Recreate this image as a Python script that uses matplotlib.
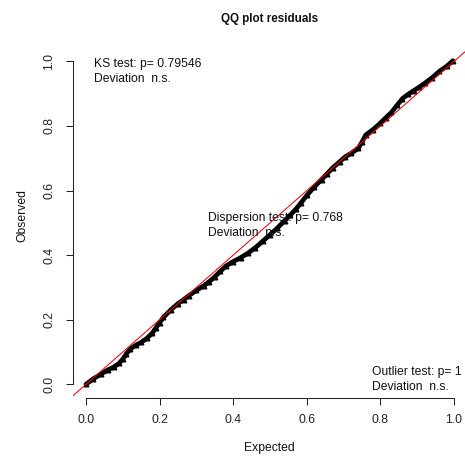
import matplotlib.pyplot as plt

# QQ plot of scaled residuals
expected = [0.000, 0.020, 0.040, 0.060, 0.075, 0.090, 0.100, 0.110, 0.120, 0.135,
            0.150, 0.165, 0.180, 0.190, 0.200, 0.210, 0.230, 0.250, 0.265, 0.280,
            0.300, 0.320, 0.335, 0.350, 0.365, 0.380, 0.400, 0.420, 0.440, 0.460,
            0.480, 0.500, 0.520, 0.540, 0.555, 0.570, 0.585, 0.600, 0.620, 0.640,
            0.655, 0.670, 0.690, 0.705, 0.720, 0.740, 0.750, 0.760, 0.780, 0.800,
            0.815, 0.830, 0.845, 0.860, 0.875, 0.890, 0.905, 0.920, 0.940, 0.960,
            0.980, 0.997]
observed = [0.000, 0.017, 0.031, 0.045, 0.053, 0.065, 0.078, 0.095, 0.109, 0.121,
            0.130, 0.142, 0.158, 0.175, 0.191, 0.207, 0.230, 0.250, 0.262, 0.275,
            0.291, 0.305, 0.318, 0.333, 0.350, 0.366, 0.380, 0.392, 0.406, 0.423,
            0.443, 0.463, 0.484, 0.507, 0.524, 0.542, 0.563, 0.585, 0.611, 0.634,
            0.652, 0.670, 0.690, 0.705, 0.715, 0.731, 0.750, 0.772, 0.789, 0.809,
            0.826, 0.842, 0.864, 0.885, 0.898, 0.909, 0.920, 0.932, 0.949, 0.969,
            0.985, 1.002]

ticks = [0.0, 0.2, 0.4, 0.6, 0.8, 1.0]
tick_labels = ["0.0", "0.2", "0.4", "0.6", "0.8", "1.0"]

ks_text = ["KS test: p= 0.79546", "Deviation  n.s."]
disp_text = ["Dispersion test: p= 0.768", "Deviation  n.s."]
outl_text = ["Outlier test: p= 1", "Deviation  n.s."]

W, H = 465, 458
plt.rcParams['font.family'] = ['Liberation Sans', 'DejaVu Sans']
FS = 8.7


def fx(px):
    return px / W


def fy(py):
    return 1 - py / H


fig = plt.figure(figsize=(W / 100, H / 100), dpi=100)
ax = fig.add_axes([fx(72.7), fy(397.7), (468.8 - 72.7) / W, (397.7 - 48.5) / H])

# dense residual points form a thick black band
ax.plot(expected, observed, color='black', lw=3.4, marker='^', ms=3.5,
        mfc='black', mec='black', mew=0.8, solid_joinstyle='round',
        solid_capstyle='round')
ax.axline((0, 0), (1, 1), color='red', lw=0.75)

ax.set_xlim(-0.0361, 1.0402)
ax.set_ylim(-0.0415, 1.04)

for s in ['top', 'right']:
    ax.spines[s].set_visible(False)
for s in ['left', 'bottom']:
    ax.spines[s].set_bounds(0, 1)
    ax.spines[s].set_linewidth(0.75)
    ax.spines[s].set_color('#222222')

ax.set_xticks(ticks)
ax.set_xticklabels(tick_labels)
ax.set_yticks(ticks)
ax.set_yticklabels(tick_labels, rotation=90, va='center')
ax.tick_params(direction='out', length=5, width=0.75, color='#222222',
               labelsize=FS, labelcolor='#222222')
ax.tick_params(axis='x', pad=7.0)
ax.tick_params(axis='y', pad=7.5)

# legends of the test results (bty = "n")
for i, t in enumerate(ks_text):
    fig.text(fx(94.3), fy(66.7 + 15 * i), t, fontsize=FS, va='baseline', color='#111111')
for i, t in enumerate(disp_text):
    fig.text(fx(208.3), fy(221 + 14.5 * i), t, fontsize=FS, va='baseline', color='#111111')
for i, t in enumerate(outl_text):
    fig.text(fx(372.3), fy(375 + 14.5 * i), t, fontsize=FS, va='baseline', color='#111111')

fig.text(fx(269.5), fy(19), "QQ plot residuals", fontsize=8.4, fontweight='bold',
         ha='center', va='center', color='#111111')
fig.text(fx(269), fy(448), "Expected", fontsize=FS, ha='center', va='center', color='#111111')
fig.text(fx(22), fy(215), "Observed", fontsize=FS, ha='center', va='center',
         rotation=90, color='#111111')

fig.savefig('out.png', dpi=100)
